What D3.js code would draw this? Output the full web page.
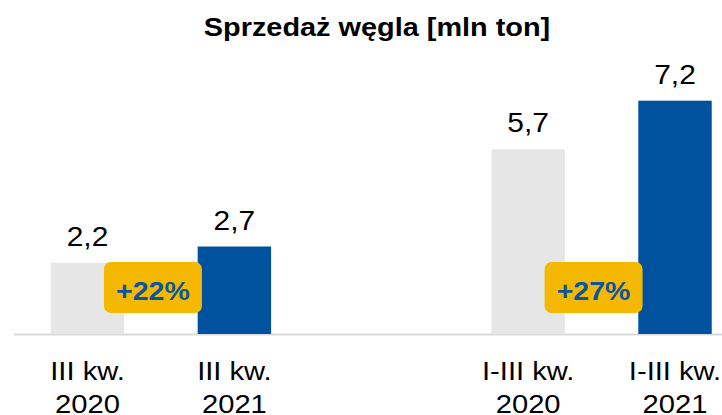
<!DOCTYPE html>
<html lang='en'>
<head>
    <meta charset='UTF-8'>
    <title>Sprzedaż węgla</title>
    <script src='https://cdnjs.cloudflare.com/ajax/libs/d3/7.8.5/d3.min.js'></script>
    <style>
        body { margin: 0; background: #fff; }
        svg { display: block; }
    </style>
</head>
<body>
    <div id='anchor'></div>
    <script>
        // values
        const categories = ['III kw. 2020', 'III kw. 2021', 'gap', 'I-III kw. 2020', 'I-III kw. 2021'];
        const labelLines = [['III kw.', '2020'], ['III kw.', '2021'], null, ['I-III kw.', '2020'], ['I-III kw.', '2021']];
        const values = [2.2, 2.7, null, 5.7, 7.2];
        const barColors = ['#e6e6e6', '#00519e', null, '#e6e6e6', '#00519e'];
        const changes = [{ from: 0, to: 1, text: '+22%' }, { from: 3, to: 4, text: '+27%' }];

        const width = 722, height = 415;
        const baseY = 334;

        const svg = d3.select('#anchor').append('svg')
            .attr('width', width)
            .attr('height', height)
            .attr('font-family', 'Liberation Sans, Arial, sans-serif');

        const x = d3.scalePoint().domain(categories).range([87.5, 675]);
        const barW = x.step() * 0.5;
        const y = d3.scaleLinear().domain([0, 7.2]).range([baseY, 100.7]);

        const idx = d3.range(categories.length).filter(i => values[i] !== null);

        // the source picture is a bit wider than tall, so text gets stretched
        svg.append('text')
            .attr('transform', 'translate(377,36) scale(1.09,1)')
            .attr('text-anchor', 'middle')
            .attr('font-size', 26.5).attr('font-weight', 'bold')
            .text('Sprzedaż węgla [mln ton]');

        svg.append('line')
            .attr('x1', 14).attr('x2', width)
            .attr('y1', baseY + 0.5).attr('y2', baseY + 0.5)
            .attr('stroke', '#d9d9d9').attr('stroke-width', 2);

        svg.append('g').selectAll('rect')
            .data(idx)
            .join('rect')
            .attr('x', i => x(categories[i]) - barW / 2)
            .attr('y', i => y(values[i]))
            .attr('width', barW)
            .attr('height', i => baseY - y(values[i]))
            .attr('fill', i => barColors[i]);

        svg.append('g').selectAll('text')
            .data(idx)
            .join('text')
            .attr('transform', i => `translate(${x(categories[i])},${y(values[i]) - 17}) scale(1.05,1)`)
            .attr('text-anchor', 'middle')
            .attr('font-size', 28.5)
            .text(i => d3.format('.1f')(values[i]).replace('.', ','));

        const lab = svg.append('g').selectAll('text')
            .data(idx)
            .join('text')
            .attr('text-anchor', 'middle')
            .attr('font-size', 26.5)
            .attr('transform', i => `translate(${x(categories[i])},0) scale(1.1,1)`);
        lab.append('tspan').attr('x', 0).attr('y', 380).text(i => labelLines[i][0]);
        lab.append('tspan').attr('x', 0).attr('y', 413).text(i => labelLines[i][1]);

        const badge = svg.append('g').selectAll('g')
            .data(changes)
            .join('g')
            .attr('transform', d => `translate(${(x(categories[d.from]) + x(categories[d.to])) / 2 - 8},${baseY - 46.5})`);
        badge.append('rect')
            .attr('x', -49).attr('y', -25.5)
            .attr('width', 98).attr('height', 51)
            .attr('rx', 7)
            .attr('fill', '#f5b800');
        badge.append('text')
            .attr('transform', 'translate(0,12.5) scale(1.12,1)')
            .attr('text-anchor', 'middle')
            .attr('font-size', 25.5).attr('font-weight', 'bold')
            .attr('fill', '#0a55a0')
            .text(d => d.text);
    </script>
</body>
</html>
